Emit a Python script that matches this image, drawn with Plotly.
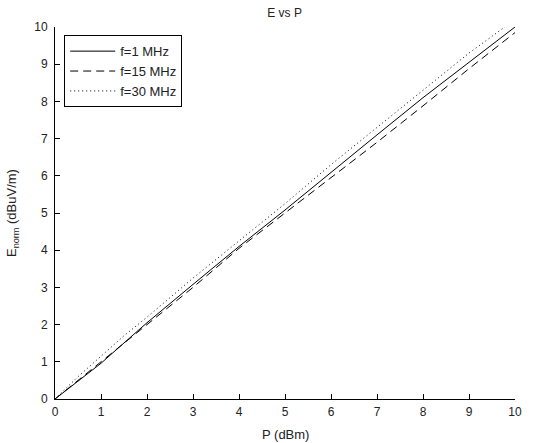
import plotly.graph_objects as go

P = [0, 0.5, 1, 1.2, 1.5, 2, 3, 4, 5, 6, 7, 8, 9, 10]
E_1MHz = [0, 0.48, 0.96, 1.18, 1.5, 2.05, 3.08, 4.1, 5.08, 6.1, 7.1, 8.1, 9.05, 10.0]
E_15MHz = [0, 0.5, 1.0, 1.2, 1.5, 2.0, 3.0, 4.05, 5.0, 5.95, 6.9, 7.88, 8.88, 9.85]
E_30MHz = [0, 0.6, 1.15, 1.38, 1.7, 2.2, 3.25, 4.25, 5.25, 6.3, 7.3, 8.28, 9.3, 10.2]

series_names = ["f=1 MHz", "f=15 MHz", "f=30 MHz"]
x_ticks = list(range(0, 11))
y_ticks = list(range(0, 11))

font = dict(family="Liberation Sans, Arial, sans-serif", size=12, color="#222")

fig = go.Figure()
for name, ys, dash in zip(series_names, [E_1MHz, E_15MHz, E_30MHz],
                          ["solid", "8px,5px", "1px,3px"]):
    fig.add_trace(go.Scatter(x=P, y=ys, mode="lines", name=name,
                             line=dict(color="black", width=1, dash=dash)))

fig.update_layout(
    width=537, height=443,
    margin=dict(l=55, r=22, t=27, b=44),
    plot_bgcolor="white", paper_bgcolor="white",
    font=font,
    title=dict(text="E vs P", x=0.53, xanchor="center", y=0.972, yanchor="middle",
               font=dict(size=12, color="#222")),
    showlegend=True,
    legend=dict(x=0.02, y=0.978, xanchor="left", yanchor="top",
                bordercolor="black", borderwidth=1, bgcolor="white",
                font=dict(size=13, color="#222"), tracegroupgap=0,
                itemwidth=45),
    annotations=[
        dict(text="P (dBm)", xref="paper", yref="paper", x=0.5, y=-0.096,
             xanchor="center", yanchor="middle", showarrow=False,
             font=dict(size=13, color="#222")),
        dict(text="E<sub>norm</sub> (dBuV/m)", xref="paper", yref="paper",
             x=-0.0935, y=0.5, xanchor="center", yanchor="middle", textangle=-90,
             showarrow=False, font=dict(size=13, color="#222")),
    ],
)
fig.update_xaxes(range=[0, 10], tickvals=x_ticks, showgrid=False, zeroline=False,
                 showline=True, linecolor="black", linewidth=1,
                 ticks="inside", ticklen=5, tickcolor="black",
                 ticklabelstandoff=2, tickfont=dict(size=12))
fig.update_yaxes(range=[0, 10], tickvals=y_ticks, showgrid=False, zeroline=False,
                 showline=True, linecolor="black", linewidth=1,
                 ticks="inside", ticklen=5, tickcolor="black",
                 ticklabelstandoff=4, tickfont=dict(size=12))

fig.write_html("out.html")
